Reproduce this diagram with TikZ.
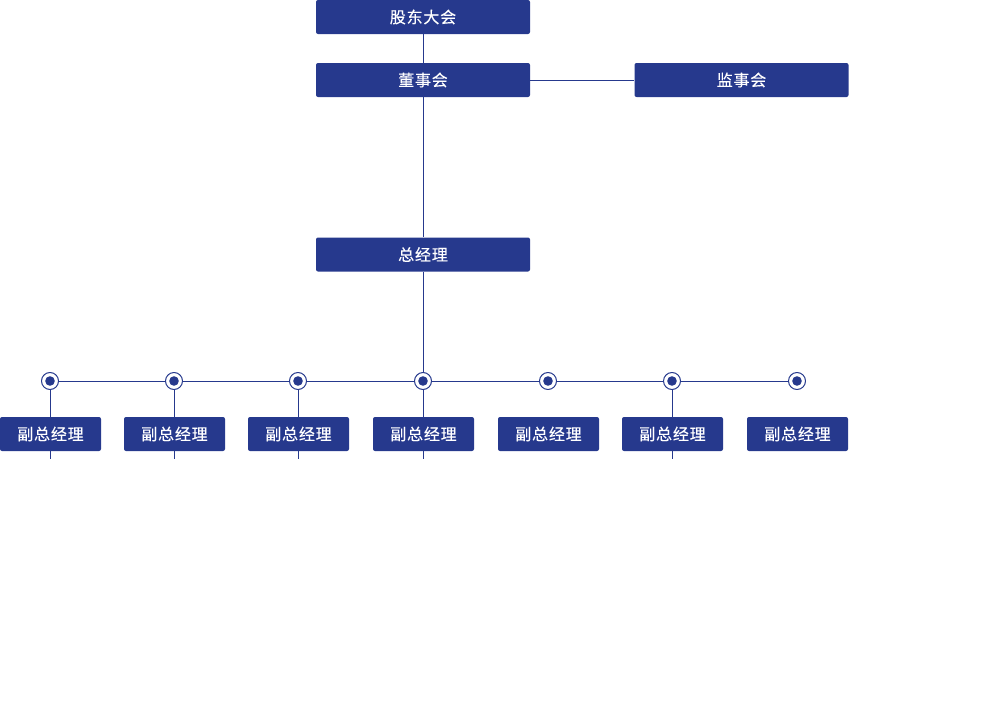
\documentclass[tikz,border=0pt]{standalone}
\usepackage{fontspec}
\newfontfamily\cjk[LetterSpace=5,FakeBold=0.25]{Noto Sans CJK SC}
\usepackage{xcolor}
\usetikzlibrary{positioning,calc}

\definecolor{orgblue}{RGB}{38,57,141}

\begin{document}
\begin{tikzpicture}[x=0.75pt,y=-0.75pt,line join=round,
  box/.style={fill=orgblue,rounded corners=1.5pt,text=white,
    minimum height=34*0.75pt,inner sep=0pt,
    font=\cjk\fontsize{12pt}{14pt}\selectfont},
  wide/.style={box,minimum width=214*0.75pt},
  narrow/.style={box,minimum width=101*0.75pt},
  link/.style={draw=orgblue,line width=0.75pt},
  knot/.style={circle,draw=orgblue,line width=0.75pt,fill=white,
    minimum size=17*0.75pt,inner sep=0pt,
    path picture={\fill[orgblue] (path picture bounding box.center) circle (4.8*0.75pt);}}]
  % ---- canvas ------------------------------------------------------------
  \useasboundingbox (0,0) rectangle (1000,707);

  % ---- top of the chart --------------------------------------------------
  \node[wide] (meeting) at (423,17)    {股东大会};
  \node[wide] (board)   at (423,80)    {董事会};
  \node[wide] (super)   at (741.5,80)  {监事会};
  \node[wide] (gm)      at (423,254.5) {总经理};

  \draw[link] (meeting) -- (board);
  \draw[link] (board) -- (super);
  \draw[link] (board) -- (gm);

  % ---- branch bar with knots ---------------------------------------------
  \draw[link] (50,381) -- (797,381);
  \foreach \i/\x in {1/50,2/174,3/298,4/423,5/548,6/672,7/797}{
    \node[knot] (k\i) at (\x,381) {};
    \node[narrow] (vp\i) at (\x+0.5,434) {副总经理};
  }
  \draw[link] (gm) -- (k4);

  % ---- drops to the deputies (not for 5 and 7) ---------------------------
  \foreach \i in {1,2,3,4,6}{
    \draw[link] (k\i) -- (k\i |- vp\i.north);
    \coordinate (t\i) at ($(vp\i.south)+(-0.5,8)$);
    \draw[link] (k\i |- vp\i.south) -- (k\i |- t\i);
  }
\end{tikzpicture}
\end{document}
